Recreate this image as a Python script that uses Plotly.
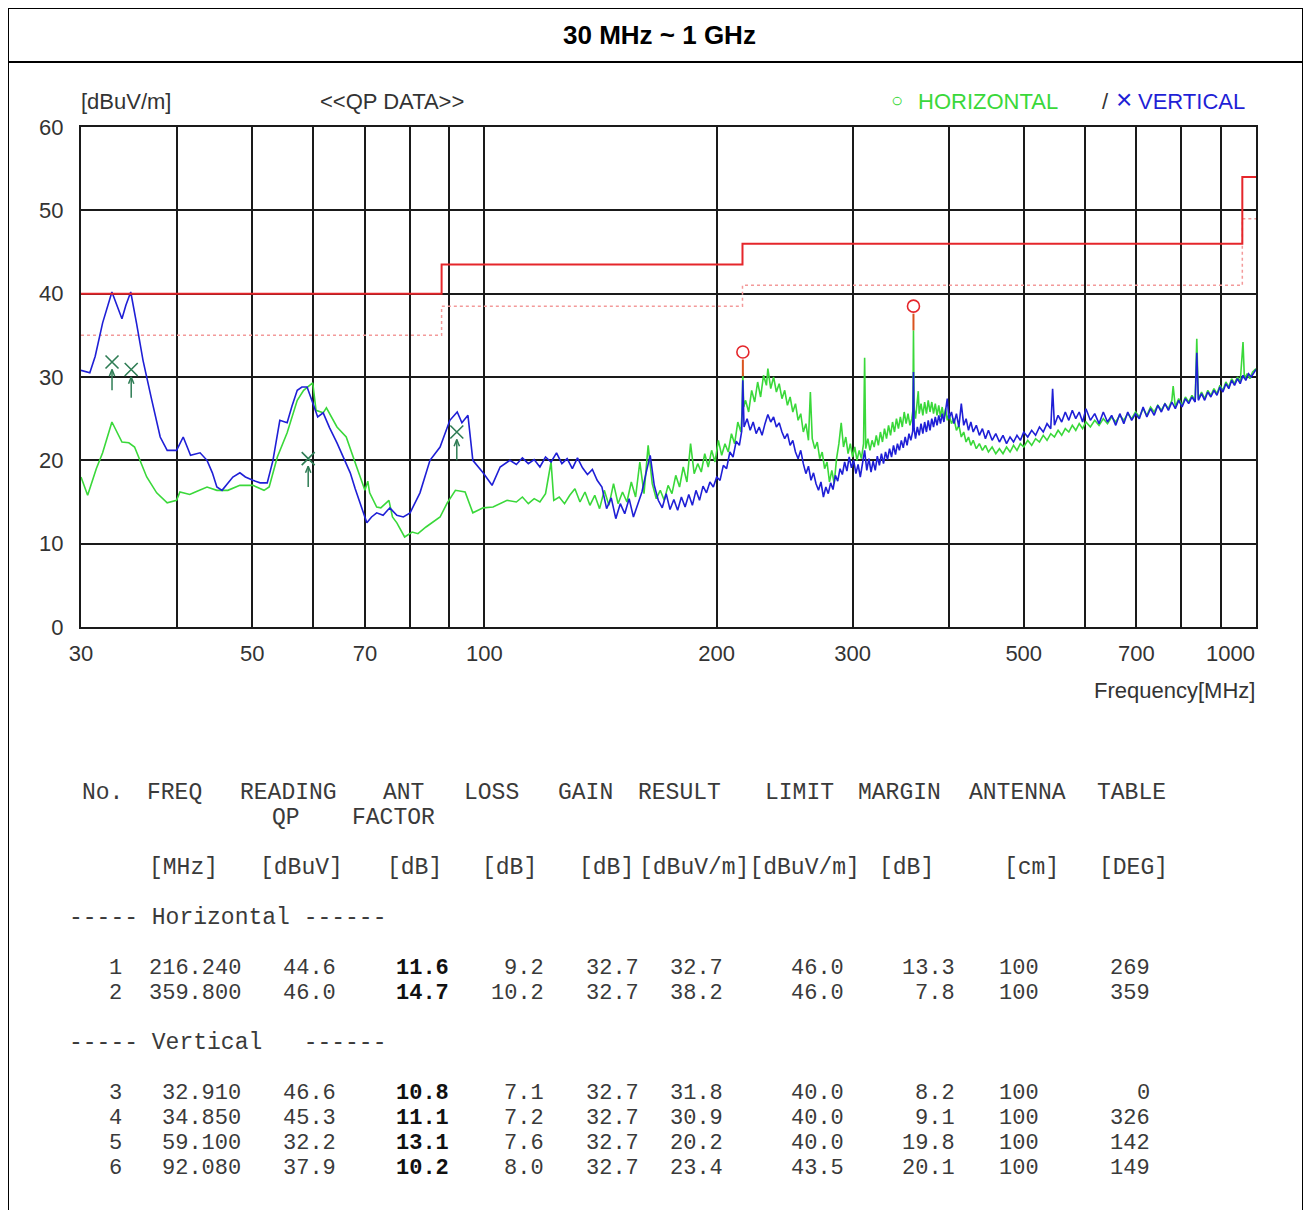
import plotly.graph_objects as go

# ---------------- data ----------------
h_freq = [30.0, 30.6, 31.4, 32.0, 32.9, 33.9, 34.6, 35.2, 36.5, 37.6, 38.8, 39.9, 40.3, 41.5, 42.2, 43.7, 45.0, 46.5,
          48.2, 50.1, 51.8, 52.6, 53.9, 55.5, 57.2, 58.3, 59.9, 60.5, 61.8, 62.4, 64.4, 66.2, 68.3, 70.0, 70.6, 71.0,
          72.5, 73.4, 75.2, 76.0, 77.0, 78.8, 80.6, 82.0, 84.0, 87.6, 89.5, 91.7, 94.4, 96.6, 99.6, 102.6, 107.0,
          110, 112, 114, 116, 118, 120, 122, 123, 125, 127, 129, 131, 133, 135, 137, 139, 141, 143, 145, 147, 149,
          151, 153, 155, 157, 159, 161, 163, 165, 167, 169, 171, 173, 175, 177, 179, 181, 183, 185, 187, 189, 191,
          193, 195, 197, 199, 201, 203, 205, 207, 209, 211, 213, 215, 215.8, 216.2, 216.8, 218, 220, 222, 224, 226,
          228, 230, 232, 233, 235, 237, 239, 241, 243, 245, 247, 249, 251, 253, 255, 257, 259, 261, 263, 264.5, 266,
          268, 270, 272, 274, 276, 278, 280, 282, 284, 286, 288, 290, 292, 294, 296, 298, 300, 302, 304, 306, 308,
          310, 311, 312, 314, 316, 318, 320, 322, 324, 326, 328, 330, 332, 334, 336, 338, 340, 342, 344, 346, 348,
          350, 352, 354, 356, 358, 359.2, 359.8, 360.5, 362, 364, 365, 366, 368, 370, 372, 374, 376, 378, 380, 382,
          384, 386, 388, 390, 392, 394, 396, 398, 400, 403, 406, 409, 412, 415, 418, 421, 424, 427, 430, 434, 438,
          442, 446, 450, 455, 460, 465, 470, 475, 480, 485, 490, 495, 500, 506, 512, 518, 524, 530, 536, 542, 548,
          554, 560, 566, 572, 578, 584, 590, 596, 602, 610, 618, 626, 634, 642, 650, 658, 666, 674, 682, 690, 698,
          706, 714, 722, 730, 738, 746, 754, 762, 770, 778, 781, 786, 794, 802, 810, 818, 826, 834, 838, 842, 850,
          858, 866, 874, 882, 890, 898, 906, 914, 922, 930, 938, 946, 954, 962, 966, 974, 982, 990, 1000]
h_level = [18.0, 15.8, 19.0, 20.9, 24.6, 22.2, 22.1, 21.6, 18.0, 16.1, 14.9, 15.2, 16.2, 15.9, 16.2, 16.8, 16.4, 16.4,
           17.0, 17.0, 16.4, 16.8, 20.4, 23.3, 27.2, 28.4, 29.3, 26.0, 25.7, 26.3, 24.0, 22.8, 19.2, 16.4, 17.5, 16.1,
           14.4, 14.3, 15.2, 13.2, 12.5, 10.8, 11.4, 11.2, 12.0, 13.2, 14.9, 16.4, 16.2, 13.7, 14.3, 14.4, 15.2,
           15.0, 15.6, 14.8, 15.4, 15.0, 16.0, 19.8, 15.2, 15.6, 14.8, 15.8, 16.6, 15.0, 16.2, 14.6, 15.8, 14.2, 16.4,
           14.6, 17.2, 14.8, 16.2, 15.0, 17.4, 15.6, 19.8, 16.0, 21.8, 17.2, 15.4, 16.4, 15.2, 17.0, 16.0, 18.2, 16.8,
           19.2, 17.4, 22.0, 18.4, 19.6, 18.6, 20.8, 19.2, 21.2, 19.8, 22.4, 20.6, 22.0, 21.0, 23.2, 22.0, 24.6, 23.4,
           26.0, 30.5, 26.4, 27.2, 25.8, 28.4, 27.0, 29.4, 27.6, 30.2, 29.0, 31.0, 28.6, 30.0, 28.2, 29.2, 27.4, 28.4,
           26.6, 27.6, 25.8, 26.8, 24.8, 25.6, 23.4, 24.4, 22.4, 28.2, 22.6, 21.4, 22.2, 20.2, 21.0, 19.0, 19.8, 17.4,
           18.8, 17.2, 20.2, 22.0, 24.5, 21.6, 22.8, 20.8, 22.0, 20.4, 21.6, 20.0, 21.2, 20.2, 22.0, 32.3, 21.4, 22.6,
           21.2, 22.4, 21.6, 23.0, 21.8, 23.4, 22.2, 23.8, 22.6, 24.2, 23.0, 24.6, 23.4, 25.0, 23.8, 25.2, 24.0, 25.8,
           24.4, 25.6, 24.2, 25.0, 26.0, 35.6, 26.2, 25.0, 27.4, 28.3, 25.6, 26.8, 25.4, 27.0, 25.6, 27.2, 25.8, 27.0,
           25.6, 26.8, 25.4, 26.6, 25.2, 26.4, 25.0, 26.2, 24.8, 25.6, 24.4, 25.0, 23.6, 24.2, 22.8, 23.4, 22.2, 22.8,
           21.8, 22.4, 21.4, 22.0, 21.2, 21.8, 21.0, 21.6, 20.8, 21.4, 20.8, 21.6, 21.0, 21.8, 21.2, 22.0, 21.6, 22.4,
           21.8, 22.6, 22.2, 23.0, 22.4, 23.2, 22.8, 23.6, 23.0, 23.8, 23.4, 24.2, 23.6, 24.4, 23.8, 24.6, 24.0, 24.8,
           24.2, 25.0, 24.4, 25.2, 24.6, 25.4, 24.8, 25.6, 25.0, 25.8, 25.2, 26.2, 25.4, 26.4, 25.8, 26.6, 26.0, 26.8,
           26.2, 27.2, 28.9, 26.4, 27.4, 26.6, 27.6, 27.0, 27.8, 27.2, 34.6, 27.4, 28.2, 27.4, 28.4, 27.8, 28.6, 28.0,
           29.0, 28.4, 29.4, 28.8, 29.8, 29.2, 30.0, 29.4, 34.2, 29.8, 30.4, 29.8, 30.6, 31.0]

v_freq = [30.0, 30.8, 31.3, 32.0, 32.9, 33.4, 33.9, 34.3, 34.8, 35.4, 36.1, 37.0, 38.0, 38.8, 39.9, 40.7, 41.6, 42.8,
          43.7, 44.4, 45.0, 45.7, 46.5, 47.2, 48.2, 49.0, 50.1, 51.2, 52.3, 53.2, 54.3, 55.5, 56.3, 57.2, 58.0, 58.9,
          59.9, 60.8, 61.8, 63.0, 64.4, 65.7, 67.0, 68.0, 69.0, 70.4, 71.4, 72.5, 73.9, 75.4, 77.0, 78.5, 80.1, 82.5,
          85.0, 87.6, 90.2, 92.2, 93.5, 95.2, 96.6, 99.6, 102.3, 104.8, 107.9,
          110, 112, 114, 116, 118, 120, 122, 124, 126, 128, 130, 132, 134, 136, 138, 140, 142, 144, 146, 148, 150,
          152, 154, 156, 158, 160, 162, 164, 166, 168, 170, 172, 174, 176, 178, 180, 182, 184, 186, 188, 190, 192,
          194, 196, 198, 200, 202, 204, 206, 208, 210, 212, 214, 215.5, 216.2, 217, 219, 221, 223, 225, 227, 229,
          231, 233, 235, 237, 239, 241, 243, 245, 247, 249, 251, 253, 255, 257, 259, 261, 263, 265, 267, 269, 271,
          273, 275, 277, 279, 281, 283, 285, 287, 289, 291, 293, 295, 297, 299, 301, 303, 305, 307, 309, 311, 313,
          315, 317, 319, 321, 323, 325, 327, 329, 331, 333, 335, 337, 339, 341, 343, 345, 347, 349, 351, 353, 355,
          357, 359.0, 359.8, 360.5, 362, 364, 366, 368, 370, 372, 374, 376, 378, 380, 382, 384, 386, 388, 390, 392,
          394, 396, 398, 400, 403, 406, 409, 412, 415, 418, 421, 424, 427, 430, 434, 438, 442, 446, 450, 455, 460,
          465, 470, 475, 480, 485, 490, 495, 500, 506, 512, 518, 524, 530, 536, 542, 545, 548, 554, 560, 566, 572,
          578, 584, 590, 596, 602, 610, 618, 626, 634, 642, 650, 658, 666, 674, 682, 690, 698, 706, 714, 722, 730,
          738, 746, 754, 762, 770, 778, 786, 794, 802, 810, 818, 826, 834, 838, 842, 850, 858, 866, 874, 882, 890,
          898, 906, 914, 922, 930, 938, 946, 954, 962, 970, 978, 986, 994, 1000]
v_level = [30.8, 30.5, 32.5, 36.5, 40.2, 38.5, 37.0, 38.6, 40.2, 36.5, 32.0, 27.5, 22.8, 21.2, 21.2, 22.8, 20.6, 20.9,
           20.0, 18.5, 16.8, 16.4, 17.2, 18.0, 18.5, 18.0, 17.6, 17.3, 17.3, 20.0, 24.8, 24.5, 26.5, 28.4, 28.8, 28.8,
           26.9, 25.2, 25.7, 23.9, 22.1, 20.3, 18.5, 16.6, 14.9, 12.5, 13.2, 13.7, 13.4, 14.3, 13.4, 13.2, 13.7, 16.1,
           20.0, 21.6, 24.8, 25.8, 24.5, 25.4, 20.0, 18.5, 17.0, 19.2, 20.0,
           19.5, 20.3, 19.6, 20.1, 19.2, 20.4, 19.8, 20.9, 19.6, 20.2, 19.0, 20.3, 19.1, 18.3, 18.9, 17.6, 16.8, 14.2,
           15.5, 13.0, 14.8, 13.6, 15.4, 13.2, 14.6, 16.2, 18.5, 20.6, 17.0, 15.2, 14.3, 16.0, 14.1, 15.3, 14.0, 15.6,
           14.4, 15.9, 14.6, 16.4, 15.2, 16.9, 16.1, 17.4, 16.8, 18.0, 17.6, 19.4, 19.0, 21.0, 20.4, 22.3, 21.8, 23.5,
           29.6, 24.0, 25.0, 23.6, 24.6, 23.2, 24.0, 23.0, 24.4, 25.5, 24.6, 25.2, 24.0, 24.5, 23.4, 22.6, 23.2, 21.8,
           22.4, 21.0, 20.2, 21.2, 19.6, 18.4, 19.3, 17.6, 18.5, 17.2, 16.4, 17.4, 15.6, 16.8, 16.0, 17.3, 16.5, 18.2,
           17.5, 19.0, 18.3, 19.8, 18.7, 20.4, 19.1, 20.0, 18.4, 19.5, 18.0, 19.7, 21.2, 18.8, 20.2, 18.6, 19.9, 18.8,
           20.5, 19.4, 20.8, 19.6, 21.0, 20.1, 21.4, 20.4, 21.8, 20.7, 22.0, 21.2, 22.4, 21.5, 22.8, 21.8, 23.2, 22.4,
           23.5, 30.6, 23.8, 22.6, 24.0, 23.0, 24.4, 23.2, 24.6, 23.4, 24.8, 23.6, 25.0, 24.0, 25.2, 24.2, 25.4, 24.4,
           25.6, 24.6, 26.0, 27.4, 25.0, 25.8, 24.4, 25.6, 24.0, 26.8, 24.2, 25.0, 23.6, 24.6, 23.4, 24.2, 23.0, 23.8,
           22.6, 23.6, 22.4, 23.2, 22.2, 23.0, 22.0, 22.8, 22.2, 23.0, 22.4, 23.4, 22.8, 23.6, 23.0, 24.0, 23.4, 24.4,
           23.8, 28.6, 24.2, 25.4, 24.6, 25.8, 24.8, 26.0, 25.0, 25.8, 24.6, 26.2, 24.8, 25.6, 24.4, 25.8, 24.6, 25.4,
           24.2, 25.6, 24.4, 25.8, 24.8, 25.6, 25.0, 26.4, 25.2, 26.2, 25.4, 26.6, 25.8, 26.8, 26.0, 27.0, 26.2, 27.2,
           26.4, 27.4, 26.8, 27.6, 27.0, 32.9, 27.2, 28.0, 27.2, 28.2, 27.6, 28.4, 27.8, 28.8, 28.2, 29.2, 28.6, 29.6,
           29.0, 29.8, 29.2, 30.2, 29.6, 30.4, 30.0, 30.6, 30.9]

limit_freq = [30, 88, 88, 216, 216, 960, 960, 1000]
limit_level = [40, 40, 43.5, 43.5, 46, 46, 54, 54]
margin_line_level = [35, 35, 38.5, 38.5, 41, 41, 49, 49]

x_tick_vals = [30, 40, 50, 60, 70, 80, 90, 100, 200, 300, 400, 500, 600, 700, 800, 900, 1000]
x_tick_text = ["30", "", "50", "", "70", "", "", "100", "200", "300", "", "500", "", "700", "", "", ""]
y_tick_vals = [0, 10, 20, 30, 40, 50, 60]

# table
tbl_no = ["1", "2", "3", "4", "5", "6"]
tbl_freq = ["216.240", "359.800", "32.910", "34.850", "59.100", "92.080"]
tbl_reading = ["44.6", "46.0", "46.6", "45.3", "32.2", "37.9"]
tbl_ant = ["11.6", "14.7", "10.8", "11.1", "13.1", "10.2"]
tbl_loss = ["9.2", "10.2", "7.1", "7.2", "7.6", "8.0"]
tbl_gain = ["32.7", "32.7", "32.7", "32.7", "32.7", "32.7"]
tbl_result = ["32.7", "38.2", "31.8", "30.9", "20.2", "23.4"]
tbl_limit = ["46.0", "46.0", "40.0", "40.0", "40.0", "43.5"]
tbl_margin = ["13.3", "7.8", "8.2", "9.1", "19.8", "20.1"]
tbl_antenna = ["100", "100", "100", "100", "100", "100"]
tbl_table = ["269", "359", "0", "326", "142", "149"]
tbl_pol = ["H", "H", "V", "V", "V", "V"]

# ---------------- layout helpers (page pixel coordinates) ----------------
OFF = 8                      # default body margin of the page
W, H = 1311 - OFF, 1210 - OFF
L, R, T, B = 81, 1256, 127, 627   # plot area in page pixels


def px(x):
    return (x - L) / (R - L)


def py(y):
    return (B - y) / (B - T)


SANS = "Liberation Sans, Arial, sans-serif"
MONO = "Liberation Mono, Courier New, monospace"
GREEN = "#3ad83a"
BLUE = "#1f1fd6"
RED = "#e5262b"
MARK_GREEN = "#2f7d55"

fig = go.Figure()

# margin (dotted) line
fig.add_trace(go.Scatter(x=limit_freq, y=margin_line_level, mode="lines",
                         line=dict(color="#f39a9a", width=1.5, dash="dot"), hoverinfo="skip"))
# spectra
fig.add_trace(go.Scatter(x=h_freq, y=h_level, mode="lines", line=dict(color=GREEN, width=1.6)))
fig.add_trace(go.Scatter(x=v_freq, y=v_level, mode="lines", line=dict(color=BLUE, width=1.6)))
# limit
fig.add_trace(go.Scatter(x=limit_freq, y=limit_level, mode="lines", line=dict(color=RED, width=2)))

# horizontal peaks (red circles with stems)
hf = [float(f) for f, p in zip(tbl_freq, tbl_pol) if p == "H"]
hr = [float(r) for r, p in zip(tbl_result, tbl_pol) if p == "H"]
sx, sy = [], []
for f, r in zip(hf, hr):
    sx += [f, f, None]
    sy += [r - 0.6, r - 2.6, None]
fig.add_trace(go.Scatter(x=sx, y=sy, mode="lines", line=dict(color="#d9531e", width=2)))
fig.add_trace(go.Scatter(x=hf, y=[r + 0.3 for r in hr], mode="markers",
                         marker=dict(symbol="circle-open", size=12, color=RED, line=dict(width=1.6, color=RED))))

# vertical QP markers (x with arrow)
vf = [float(f) for f, p in zip(tbl_freq, tbl_pol) if p == "V"]
vr = [float(r) for r, p in zip(tbl_result, tbl_pol) if p == "V"]
ax, ay = [], []
for f, r in zip(vf, vr):
    ax += [f, f, None, f / 1.008, f, f * 1.008, None]
    ay += [r - 0.9, r - 3.4, None, r - 1.7, r - 0.9, r - 1.7, None]
fig.add_trace(go.Scatter(x=ax, y=ay, mode="lines", line=dict(color=MARK_GREEN, width=1.5)))
fig.add_trace(go.Scatter(x=vf, y=vr, mode="markers",
                         marker=dict(symbol="x-thin", size=13, line=dict(width=1.6, color=MARK_GREEN))))

annotations = []


def txt(x, y, s, size=22, color="#333333", font=SANS, xanchor="left"):
    annotations.append(dict(x=px(x), y=py(y), xref="paper", yref="paper", text=s, showarrow=False,
                            xanchor=xanchor, yanchor="middle", font=dict(family=font, size=size, color=color)))


# title
txt(659, 35, "<b>30 MHz ~ 1 GHz</b>", size=26, color="#000000", xanchor="center")
# chart texts
txt(79, 102, "[dBuV/m]", size=22)
txt(318, 102, "&lt;&lt;QP DATA&gt;&gt;", size=22)
txt(889, 100, "○", size=20, color=GREEN)
txt(916, 102, "HORIZONTAL", size=22, color=GREEN)
txt(1100, 102, "/", size=22, color="#333333")
txt(1114, 100, "×", size=28, color=BLUE)
txt(1136, 102, "VERTICAL", size=22, color=BLUE)
txt(1257, 653, "1000", size=22, xanchor="right")
txt(1257, 690, "Frequency[MHz]", size=22, xanchor="right")

# table header
hdr1 = [(80, "No."), (145, "FREQ"), (238, "READING"), (381, "ANT"), (462, "LOSS"), (556, "GAIN"),
        (636, "RESULT"), (763, "LIMIT"), (856, "MARGIN"), (967, "ANTENNA"), (1095, "TABLE")]
hdr2 = [(270, "QP"), (350, "FACTOR")]
hdr3 = [(147, "[MHz]"), (258, "[dBuV]"), (385, "[dB]"), (480, "[dB]"), (577, "[dB]"),
        (637, "[dBuV/m][dBuV/m]"), (877, "[dB]"), (1002, "[cm]"), (1097, "[DEG]")]
TCOL = "#3a3a3a"
for x, s in hdr1:
    txt(x, 793, s, size=23, font=MONO, color=TCOL)
for x, s in hdr2:
    txt(x, 818, s, size=23, font=MONO, color=TCOL)
for x, s in hdr3:
    txt(x, 868, s, size=23, font=MONO, color=TCOL)
txt(67, 918, "----- Horizontal ------", size=23, font=MONO, color=TCOL)
txt(67, 1043, "----- Vertical   ------", size=23, font=MONO, color=TCOL)

row_y = [968, 993, 1093, 1118, 1143, 1168]
cols = [(124, tbl_no, False), (243, tbl_freq, False), (338, tbl_reading, False), (451, tbl_ant, True),
        (546, tbl_loss, False), (641, tbl_gain, False), (725, tbl_result, False), (846, tbl_limit, False),
        (957, tbl_margin, False), (1041, tbl_antenna, False), (1152, tbl_table, False)]
for xr, vals, bold in cols:
    for yv, v in zip(row_y, vals):
        s = f"<b>{v}</b>" if bold else v
        txt(xr, yv, s, size=22, font=MONO, color="#111111" if bold else TCOL, xanchor="right")

shapes = [
    dict(type="rect", xref="paper", yref="paper", x0=px(8), x1=px(1303), y0=py(8), y1=py(1260),
         line=dict(color="#000000", width=2), layer="below"),
    dict(type="line", xref="paper", yref="paper", x0=px(8), x1=px(1303), y0=py(62), y1=py(62),
         line=dict(color="#000000", width=2)),
]

fig.update_layout(
    width=W, height=H,
    margin=dict(l=L - OFF, r=(W + OFF) - R, t=T - OFF, b=(H + OFF) - B, pad=0),
    paper_bgcolor="white", plot_bgcolor="white",
    showlegend=False,
    annotations=annotations,
    shapes=shapes,
    xaxis=dict(type="log", range=[1.4771213, 3.0], tickvals=x_tick_vals, ticktext=x_tick_text,
               showgrid=True, gridcolor="#1a1a1a", gridwidth=2, zeroline=False,
               showline=True, linecolor="#1a1a1a", linewidth=2, mirror=True, ticks="",
               ticklabelstandoff=6, tickfont=dict(family=SANS, size=22, color="#333333")),
    yaxis=dict(range=[0, 60], tickvals=y_tick_vals, showgrid=True, gridcolor="#1a1a1a", gridwidth=2,
               zeroline=False, showline=True, linecolor="#1a1a1a", linewidth=2, mirror=True, ticks="",
               ticklabelstandoff=11, tickfont=dict(family=SANS, size=22, color="#333333")),
)

fig.write_html("out.html")
